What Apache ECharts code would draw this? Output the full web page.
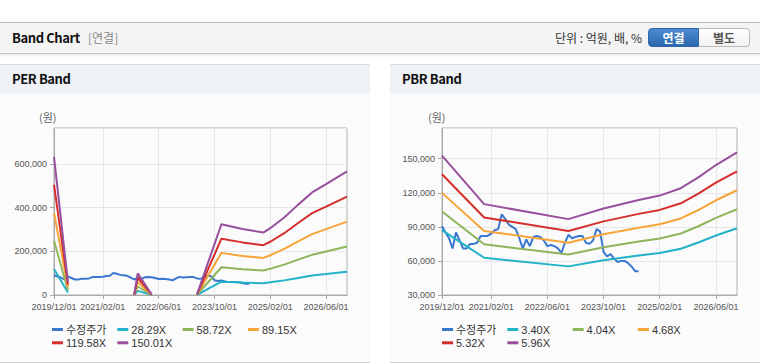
<!DOCTYPE html>
<html><head><meta charset="utf-8">
<script src="https://cdn.jsdelivr.net/npm/echarts@6.0.0/dist/echarts.min.js"></script>
<style>
html,body{margin:0;padding:0;background:#fff}
body{width:760px;height:364px;position:relative;overflow:hidden;font-family:"Noto Sans CJK KR","Noto Sans",sans-serif}
#hdr{position:absolute;left:0;top:22px;width:760px;height:30px;background:#f4f4f4;border-top:1px solid #bcbcbc;border-bottom:1px solid #c6c6c6;box-shadow:0 1px 3px rgba(0,0,0,0.12)}
#hdr .t{position:absolute;left:12px;top:0;line-height:30px;font-size:13px;letter-spacing:-0.4px;font-weight:bold;color:#111}
#hdr .s{position:absolute;left:88px;top:0;line-height:30px;font-size:12px;color:#888}
#hdr .u{position:absolute;right:118px;top:0;line-height:30px;font-size:12px;color:#333}
.btn{position:absolute;top:5px;height:17px;line-height:17px;text-align:center;font-size:12px;font-weight:bold}
#b1{left:648px;width:49px;background:linear-gradient(#4d8cd2,#2c68ad);color:#fff;border:1px solid #2d65a6;border-radius:4px 0 0 4px}
#b2{left:699px;width:50px;background:linear-gradient(#fff,#f2f2f2);color:#555;border:1px solid #b9b9b9;border-left:none;border-radius:0 4px 4px 0}
.panel{position:absolute;top:64px;width:370px;height:297px;background:#fbfbfb;border-top:1px solid #dcdcdc;border-bottom:1px solid #cfcfcf}
.ph{position:absolute;left:0;top:0;width:100%;height:28px;background:#eef2f7}
.ph span{position:absolute;left:12px;line-height:28px;font-size:13px;letter-spacing:-0.4px;font-weight:bold;color:#111}
.unit{position:absolute;top:45px;font-size:11px;color:#666;line-height:14px}
.chart{position:absolute;left:0;top:28px;width:370px;height:269px}
</style>
</head>
<body>
<div id="hdr">
  <span class="t">Band Chart</span>
  <span class="s">[연결]</span>
  <span class="u">단위 : 억원, 배, %</span>
  <div class="btn" id="b1">연결</div>
  <div class="btn" id="b2">별도</div>
</div>
<div class="panel" style="left:0">
  <div class="ph"><span>PER Band</span></div>
  <div class="unit" style="left:39px">(원)</div>
  <div class="chart" id="per"></div>
</div>
<div class="panel" style="left:390px">
  <div class="ph"><span>PBR Band</span></div>
  <div class="unit" style="left:38px">(원)</div>
  <div class="chart" id="pbr"></div>
</div>
<script>
// ---- categories (monthly) ----
const months = [
'2019/12/01',
'2020/01/01','2020/02/01','2020/03/01','2020/04/01','2020/05/01','2020/06/01','2020/07/01','2020/08/01','2020/09/01','2020/10/01','2020/11/01','2020/12/01',
'2021/01/01','2021/02/01','2021/03/01','2021/04/01','2021/05/01','2021/06/01','2021/07/01','2021/08/01','2021/09/01','2021/10/01','2021/11/01','2021/12/01',
'2022/01/01','2022/02/01','2022/03/01','2022/04/01','2022/05/01','2022/06/01','2022/07/01','2022/08/01','2022/09/01','2022/10/01','2022/11/01','2022/12/01',
'2023/01/01','2023/02/01','2023/03/01','2023/04/01','2023/05/01','2023/06/01','2023/07/01','2023/08/01','2023/09/01','2023/10/01','2023/11/01','2023/12/01',
'2024/01/01','2024/02/01','2024/03/01','2024/04/01','2024/05/01','2024/06/01','2024/07/01','2024/08/01','2024/09/01','2024/10/01','2024/11/01','2024/12/01',
'2025/01/01','2025/02/01','2025/03/01','2025/04/01','2025/05/01','2025/06/01','2025/07/01','2025/08/01','2025/09/01','2025/10/01','2025/11/01','2025/12/01',
'2026/01/01','2026/02/01','2026/03/01','2026/04/01','2026/05/01','2026/06/01','2026/07/01','2026/08/01','2026/09/01','2026/10/01','2026/11/01','2026/12/01'
];
const xTickLabels = ['2019/12/01','2021/02/01','2022/06/01','2023/10/01','2025/02/01','2026/06/01'];

// ---- adjusted price (monthly from 2019/12) ----
const price = [
90500,85000,80000,71000,85000,78000,71000,71000,75000,75000,
76000,82000,82000,82000,84000,87000,88000,101000,97000,92000,
90000,88000,80000,71000,79000,73000,81000,82000,81000,78000,
73000,74000,73000,71000,67000,76000,83000,80000,81000,82000,
82000,76000,75000,78000,88000,86000,68000,64000,66000,62000,
59000,60000,60000,58000,55000,51000,51000
];

// ---- PER band (null = no value) ----
const perDates = ['2019/12/01','2020/01/01','2020/02/01','2020/03/01','2020/04/01','2020/05/01','2021/11/01','2021/12/01','2022/04/01','2022/05/01','2023/05/01','2023/12/01','2024/06/01','2024/12/01','2025/02/01','2025/06/01','2025/10/01','2026/02/01','2026/06/01','2026/12/01'];
const per2829  = [119000,92000,65000,38000,11000,null,400,19000,400,null,600,61000,57000,54000,58000,67000,78000,89000,96000,107000];
const per5872  = [248000,192000,135000,78000,23000,null,800,39000,800,null,1200,127000,118000,112000,120000,139000,162000,184000,199000,222000];
const per8915  = [376000,291000,205000,119000,36000,null,1200,59000,1200,null,1800,193000,179000,170000,182000,211000,246000,279000,302000,336000];
const per11958 = [505000,391000,275000,159000,48000,null,1600,79000,1600,null,2400,258000,241000,228000,244000,283000,330000,375000,405000,451000];
const per15001 = [633000,490000,345000,200000,60000,null,2000,99000,2000,null,3000,324000,302000,286000,306000,355000,414000,470000,508000,566000];

// ---- PBR band ----
const pbrDates = ['2019/12/01','2020/12/01','2022/12/01','2023/10/01','2024/08/01','2025/02/01','2025/08/01','2026/01/01','2026/06/01','2026/12/01'];
const pbr340 = [87100,62800,55200,60600,64800,67000,70700,76200,82400,88800];
const pbr404 = [103500,74600,65600,72000,77000,79700,84100,90500,97900,105500];
const pbr468 = [119900,86400,76000,83400,89200,92300,97400,104800,113400,122200];
const pbr532 = [136300,98200,86400,94800,101400,104900,110700,119200,128900,138900];
const pbr596 = [152700,110000,96800,106200,113600,117500,124000,133500,144400,155600];

const perNames = ['수정주가','28.29X','58.72X','89.15X','119.58X','150.01X'];
const pbrNames = ['수정주가','3.40X','4.04X','4.68X','5.32X','5.96X'];

const colors = ['#3a78d0','#22b2c8','#8db55a','#f5a53a','#d42f2c','#984f9d'];
const LATIN = '"Liberation Sans","Noto Sans CJK KR",sans-serif';

function pairs(dates, vals){
  return dates.map(function(d,i){ return [d, vals[i]==null ? '-' : vals[i]]; });
}
function showTick(idx, val){ return xTickLabels.indexOf(val) >= 0; }

function build(names, bands, dates, ymin, ymax, yint, gridLeft, gridWidth){
  const series = [{
    name: names[0], type:'line', data: price, showSymbol:false, symbol:'none',
    lineStyle:{width:2}, color: colors[0]
  }];
  for (let i=0;i<bands.length;i++){
    series.push({
      name: names[i+1], type:'line', data: pairs(dates, bands[i]),
      showSymbol:false, symbol:'none', connectNulls:false,
      lineStyle:{width:2}, color: colors[i+1]
    });
  }
  const legends = names.map(function(n, i){
    return {
      data:[n], icon:'rect', itemWidth:11, itemHeight:3, padding:0,
      selectedMode:false,
      left: 52 + (i % 4) * 65.3, top: 231 + Math.floor(i / 4) * 13.3,
      textStyle:{fontSize:11, color:'#333', fontFamily:LATIN, padding:[0,0,0,-2]}
    };
  });
  return {
    animation:false,
    color: colors,
    grid:{left:gridLeft, top:35, width:gridWidth, height:167, show:true,
          borderColor:'#b0b0b0', borderWidth:1, backgroundColor:'transparent'},
    legend: legends,
    xAxis:{
      type:'category', data: months, boundaryGap:false,
      axisLine:{lineStyle:{color:'#a8a8a8'}},
      axisTick:{show:true, interval:showTick, length:4, lineStyle:{color:'#a8a8a8'}},
      axisLabel:{interval:showTick, fontSize:9, color:'#555', fontFamily:LATIN, margin:7},
      splitLine:{show:true, interval:showTick, lineStyle:{color:'#e6e6e6'}}
    },
    yAxis:{
      type:'value', min:ymin, max:ymax, interval:yint,
      axisLine:{show:true, lineStyle:{color:'#a8a8a8'}},
      axisTick:{show:true, length:4, lineStyle:{color:'#a8a8a8'}},
      axisLabel:{fontSize:9, color:'#555', fontFamily:LATIN, showMaxLabel:false, margin:7},
      splitLine:{show:true, lineStyle:{color:'#e6e6e6'}}
    },
    series: series
  };
}

const perChart = echarts.init(document.getElementById('per'), null, {renderer:'svg'});
perChart.setOption(build(perNames, [per2829, per5872, per8915, per11958, per15001], perDates, 0, 765000, 200000, 54, 293));

const pbrChart = echarts.init(document.getElementById('pbr'), null, {renderer:'svg'});
pbrChart.setOption(build(pbrNames, [pbr340, pbr404, pbr468, pbr532, pbr596], pbrDates, 30000, 177000, 30000, 52, 295));
</script>
</body></html>
